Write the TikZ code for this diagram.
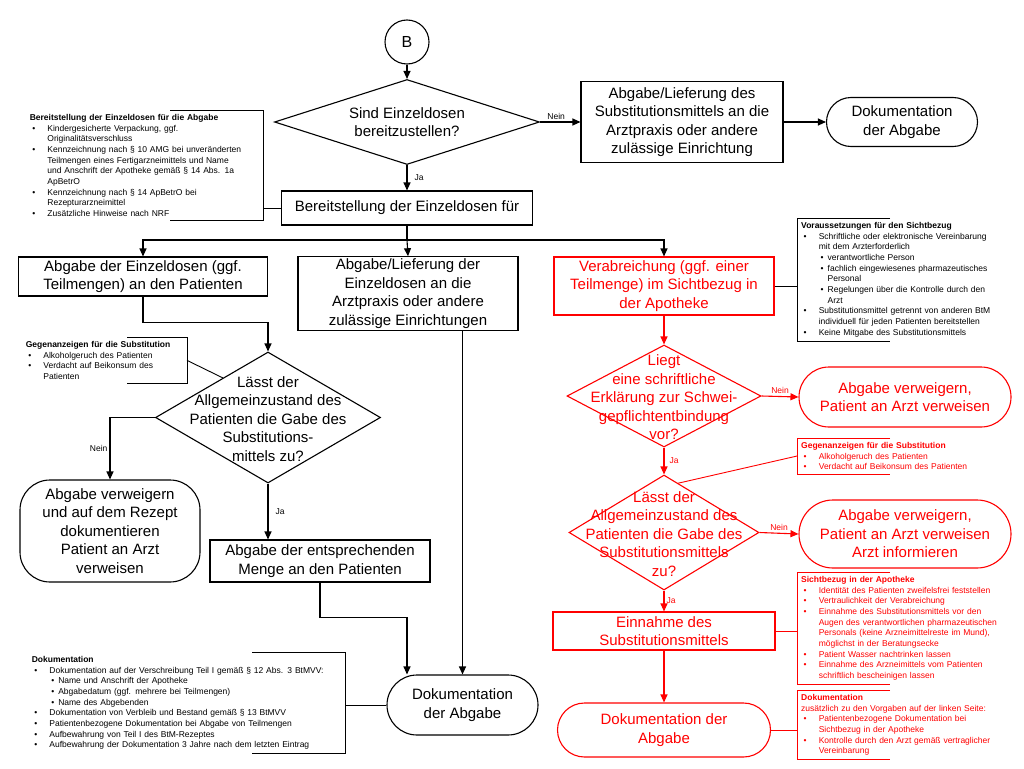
\documentclass[tikz,border=0pt]{standalone}
\usepackage{fontspec}
\setmainfont{Liberation Sans}
\usetikzlibrary{shapes.geometric,shapes.misc,arrows.meta,calc}
\newcommand{\bul}[1]{\par\hangindent=17.6pt\noindent\makebox[17.6pt][l]{\hspace{2.5pt}\textbullet}#1\par}
\newcommand{\subbul}[1]{\par\hangindent=26.5pt\noindent\hspace{19.5pt}\makebox[7pt][l]{\textbullet}#1\par}
\tikzset{
  box/.style={draw, line width=1.1pt, align=center, inner sep=2pt, font=\fontsize{15}{18.5}\selectfont},
  term/.style={box, rounded rectangle},
  dec/.style={draw, diamond, line width=1.1pt, inner sep=0pt},
  dectext/.style={align=center, font=\fontsize{15}{18.5}\selectfont},
  notebox/.style={inner xsep=4pt, inner ysep=4pt, text width=#1, align=left, font=\fontsize{8.5}{10.7}\selectfont},
  bracket/.style={line width=0.9pt},
  flow/.style={line width=1.1pt, -{Triangle[length=8pt,width=7pt]}},
  lbl/.style={font=\fontsize{8.5}{10}\selectfont, inner sep=2pt},
}
\begin{document}
\begin{tikzpicture}[x=1pt, y=-1pt]
\useasboundingbox (0,0) rectangle (1024,768);

\node[draw, circle, line width=1.1pt, minimum size=44pt, font=\fontsize{16}{18}\selectfont] (b) at (407,42) {B};
\node[dec, minimum width=265pt, minimum height=85pt] (q1) at (407,122) {};
\node[dectext] at (q1) {Sind Einzeldosen\\bereitzustellen?};
\node[box, minimum width=202pt, minimum height=81pt] (liefer1) at (682,122) {Abgabe/Lieferung des\\Substitutionsmittels an die\\Arztpraxis oder andere\\zulässige Einrichtung};
\node[term, minimum width=155pt, minimum height=49pt] (doku1) at (902,122) {Dokumentation\\der Abgabe};
\node[box, minimum width=251pt, minimum height=34pt] (bereit) at (407,208) {Bereitstellung der Einzeldosen für};

\node[box, minimum width=249pt, minimum height=39pt] (abg1) at (143,276.5) {Abgabe der Einzeldosen (ggf.\\Teilmengen) an den Patienten};
\node[box, minimum width=220pt, minimum height=73pt] (liefer2) at (408,293.5) {Abgabe/Lieferung der\\Einzeldosen an die\\Arztpraxis oder andere\\zulässige Einrichtungen};
\node[box, red, minimum width=220pt, minimum height=58pt] (verab) at (664,286) {Verabreichung (ggf. einer\\Teilmenge) im Sichtbezug in\\der Apotheke};

\node[dec, minimum width=225pt, minimum height=131pt] (q2) at (268,417.5) {};
\node[dectext] at (268,419) {Lässt der\\Allgemeinzustand des\\Patienten die Gabe des\\Substitutions-\\mittels zu?};
\node[box, rounded corners=30pt, minimum width=180pt, minimum height=102pt] (verw1) at (110,531) {Abgabe verweigern\\und auf dem Rezept\\dokumentieren\\Patient an Arzt\\verweisen};
\node[box, minimum width=220pt, minimum height=42pt] (abg2) at (320,561) {Abgabe der entsprechenden\\Menge an den Patienten};
\node[term, minimum width=155pt, minimum height=60pt] (doku2) at (462.5,705) {Dokumentation\\der Abgabe};

\node[dec, red, minimum width=194pt, minimum height=102pt] (q3) at (664,396) {};
\node[dectext, red] at (664,397.5) {Liegt\\eine schriftliche\\Erklärung zur Schwei-\\gepflichtentbindung\\vor?};
\node[term, red, minimum width=216pt, minimum height=60pt] (verw2) at (905,397) {Abgabe verweigern,\\Patient an Arzt verweisen};
\node[dec, red, minimum width=190pt, minimum height=115pt] (q4) at (664,532.5) {};
\node[dectext, red] at (664,534) {Lässt der\\Allgemeinzustand des\\Patienten die Gabe des\\Substitutionsmittels\\zu?};
\node[term, red, minimum width=216pt, minimum height=68pt] (verw3) at (905,534) {Abgabe verweigern,\\Patient an Arzt verweisen\\Arzt informieren};
\node[box, red, minimum width=222pt, minimum height=38pt] (einn) at (664,631) {Einnahme des\\Substitutionsmittels};
\node[term, red, minimum width=217pt, minimum height=54pt] (doku3) at (664,730) {Dokumentation der\\Abgabe};

\node[notebox=229pt, anchor=north east] (n1) at (263,110) {\textbf{Bereitstellung der Einzeldosen für die Abgabe}
\bul{Kindergesicherte Verpackung, ggf.\newline Originalitätsverschluss}
\bul{Kennzeichnung nach § 10 AMG bei unveränderten\newline Teilmengen eines Fertigarzneimittels und Name\newline und Anschrift der Apotheke gemäß § 14 Abs. 1a\newline ApBetrO}
\bul{Kennzeichnung nach § 14 ApBetrO bei\newline Rezepturarzneimittel}
\bul{Zusätzliche Hinweise nach NRF}};
\node[notebox=215pt, anchor=north west] (n2) at (797,218) {\textbf{Voraussetzungen für den Sichtbezug}
\bul{Schriftliche oder elektronische Vereinbarung\newline mit dem Arzterforderlich}
\subbul{verantwortliche Person}
\subbul{fachlich eingewiesenes pharmazeutisches\newline Personal}
\subbul{Regelungen über die Kontrolle durch den\newline Arzt}
\bul{Substitutionsmittel getrennt von anderen BtM\newline individuell für jeden Patienten bereitstellen}
\bul{Keine Mitgabe des Substitutionsmittels}};
\node[notebox=158pt, inner xsep=3pt, anchor=north east] (n3) at (187,337) {\textbf{Gegenanzeigen für die Substitution}
\bul{Alkoholgeruch des Patienten}
\bul{Verdacht auf Beikonsum des\newline Patienten}};
\node[notebox=215pt, red, anchor=north west] (n4) at (797,438) {\textbf{Gegenanzeigen für die Substitution}
\bul{Alkoholgeruch des Patienten}
\bul{Verdacht auf Beikonsum des Patienten}};
\node[notebox=215pt, red, anchor=north west] (n5) at (797,572) {\textbf{Sichtbezug in der Apotheke}
\bul{Identität des Patienten zweifelsfrei feststellen}
\bul{Vertraulichkeit der Verabreichung}
\bul{Einnahme des Substitutionsmittels vor den\newline Augen des verantwortlichen pharmazeutischen\newline Personals (keine Arzneimittelreste im Mund),\newline möglichst in der Beratungsecke}
\bul{Patient Wasser nachtrinken lassen}
\bul{Einnahme des Arzneimittels vom Patienten\newline schriftlich bescheinigen lassen}};
\node[notebox=215pt, red, anchor=north west] (n6) at (797,690) {\textbf{Dokumentation}\par
zusätzlich zu den Vorgaben auf der linken Seite:
\bul{Patientenbezogene Dokumentation bei\newline Sichtbezug in der Apotheke}
\bul{Kontrolle durch den Arzt gemäß vertraglicher\newline Vereinbarung}};
\node[notebox=309pt, anchor=north east] (n7) at (345,652) {\textbf{Dokumentation}
\bul{Dokumentation auf der Verschreibung Teil I gemäß § 12 Abs. 3 BtMVV:}
\subbul{Name und Anschrift der Apotheke}
\subbul{Abgabedatum (ggf. mehrere bei Teilmengen)}
\subbul{Name des Abgebenden}
\bul{Dokumentation von Verbleib und Bestand gemäß § 13 BtMVV}
\bul{Patientenbezogene Dokumentation bei Abgabe von Teilmengen}
\bul{Aufbewahrung von Teil I des BtM-Rezeptes}
\bul{Aufbewahrung der Dokumentation 3 Jahre nach dem letzten Eintrag}};

\draw[bracket] ([xshift=-93pt]n1.north east) -- (n1.north east) -- (n1.south east) -- ([xshift=-93pt]n1.south east);
\draw[bracket] ([xshift=93pt]n2.north west) -- (n2.north west) -- (n2.south west) -- ([xshift=93pt]n2.south west);
\draw[bracket] ([xshift=-60pt]n3.north east) -- (n3.north east) -- (n3.south east) -- ([xshift=-60pt]n3.south east);
\draw[bracket, red] ([xshift=93pt]n4.north west) -- (n4.north west) -- (n4.south west) -- ([xshift=93pt]n4.south west);
\draw[bracket, red] ([xshift=93pt]n5.north west) -- (n5.north west) -- (n5.south west) -- ([xshift=93pt]n5.south west);
\draw[bracket, red] ([xshift=93pt]n6.north west) -- (n6.north west) -- (n6.south west) -- ([xshift=93pt]n6.south west);
\draw[bracket] ([xshift=-93pt]n7.north east) -- (n7.north east) -- (n7.south east) -- ([xshift=-93pt]n7.south east);

\draw[bracket] (n1.east |- bereit.west) -- (bereit.west);
\draw[bracket] (verab.east) -- (verab.east -| n2.west);
\draw[bracket] (n3.east) -- ($(q2.north)!0.4!(q2.west)$);
\draw[bracket, red] (n4.west) -- ($(q4.north)!0.15!(q4.east)$);
\draw[bracket, red] (einn.east) -- (einn.east -| n5.west);
\draw[bracket, red] (doku3.east) -- (doku3.east -| n6.west);
\draw[bracket] (n7.east |- doku2.west) -- (doku2.west);

\coordinate (split) at (407,240);
\draw[flow] (b) -- (q1);
\draw[flow] (q1.east) -- node[lbl, above, pos=0.4] {Nein} (liefer1.west);
\draw[flow] (liefer1) -- (doku1);
\draw[flow] (q1.south) -- node[lbl, right=5pt] {Ja} (bereit.north);
\draw[line width=1.1pt] (bereit.south) -- (split);
\draw[flow] (split) -| (abg1.north);
\draw[flow] (split) -- (liefer2.north);
\draw[flow] (split) -| (verab.north);
\draw[flow] (abg1.south) -- ++(0,26) -| (q2.north);
\draw[flow] (q2.west) -| node[lbl, left, pos=0.75] {Nein} (verw1.north);
\draw[flow] (q2.south) -- node[lbl, right=5pt] {Ja} (q2.south |- abg2.north);
\draw[flow] (abg2.south) -- ++(0,35) -| ([xshift=-55.5pt]doku2.north);
\draw[flow] (liefer2.south -| doku2.north) -- (doku2.north);
\draw[flow, red] (verab.south) -- (q3.north);
\draw[flow, red] (q3.east) -- node[lbl, above] {Nein} (verw2.west);
\draw[flow, red] (q3.south) -- node[lbl, right=3pt] {Ja} (q4.north);
\draw[flow, red] (q4.east) -- node[lbl, above] {Nein} (verw3.west);
\draw[flow, red] (q4.south) -- node[lbl, right=0pt] {Ja} (einn.north);
\draw[flow, red] (einn.south) -- (doku3.north);
\end{tikzpicture}
\end{document}
